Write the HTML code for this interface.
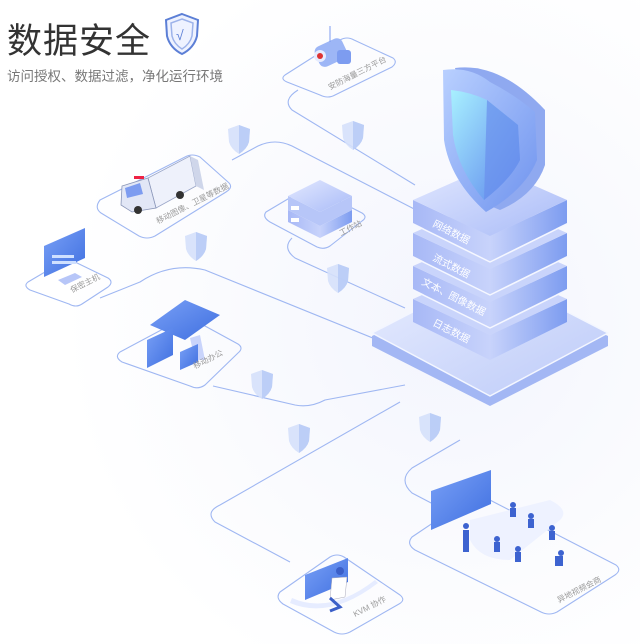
<!DOCTYPE html>
<html><head><meta charset="utf-8"><style>
html,body{margin:0;padding:0;background:#fff;}
body{width:640px;height:644px;overflow:hidden;position:relative;font-family:"Liberation Sans","Noto Sans CJK SC",sans-serif;}
.t1{position:absolute;left:7px;top:13px;font-size:35px;color:#333;letter-spacing:1px;}
.t2{position:absolute;left:7px;top:65px;font-size:13.5px;color:#777;}
svg{position:absolute;left:0;top:0;}
</style></head><body>
<svg width="640" height="644" viewBox="0 0 640 644" xmlns="http://www.w3.org/2000/svg">
<defs>
<linearGradient id="sh" x1="0" y1="0" x2="1" y2="1"><stop offset="0" stop-color="#b9d0ff"/><stop offset="1" stop-color="#6f93ee"/></linearGradient>
<linearGradient id="shf" x1="0" y1="0" x2="1" y2="1"><stop offset="0" stop-color="#a8f0ff"/><stop offset="1" stop-color="#5d86ec"/></linearGradient>
<linearGradient id="top" x1="0" y1="0" x2="1" y2="1"><stop offset="0" stop-color="#e2e8ff"/><stop offset="1" stop-color="#a9bbf7"/></linearGradient>
<linearGradient id="btop" x1="0" y1="0" x2="1" y2="1"><stop offset="0" stop-color="#e8edff"/><stop offset="1" stop-color="#bccaf8"/></linearGradient>
<linearGradient id="side" x1="0" y1="0" x2="1" y2="0"><stop offset="0" stop-color="#a7b8f6"/><stop offset="0.5" stop-color="#c8d3fb"/><stop offset="1" stop-color="#7d9cf0"/></linearGradient>
<linearGradient id="scr" x1="0" y1="0" x2="1" y2="1"><stop offset="0" stop-color="#79a0f6"/><stop offset="1" stop-color="#3f6fe0"/></linearGradient>
<radialGradient id="bg" cx="0.7" cy="0.5" r="0.6"><stop offset="0" stop-color="#f3f5fd"/><stop offset="1" stop-color="#ffffff"/></radialGradient>
<g id="sm"><path d="M0,-12 L11,-8 L10,5 Q8,12 0,17 Q-8,12 -10,5 L-11,-8 Z" fill="#d5e0fb" opacity="0.9"/><path d="M0,-12 L11,-8 L10,5 Q8,12 0,17 Z" fill="#b8cbf6" opacity="0.9"/></g>
</defs>
<rect width="640" height="644" fill="url(#bg)"/>
<g fill="none" stroke="#9fb7f2" stroke-width="1.1" stroke-linejoin="round">
<path d="M298,90 Q282,100 292,110 L415,185"/>
<path d="M232,160 L258,146 Q275,138 292,146 L420,212"/>
<path d="M292,238 Q282,248 295,258 L405,308"/>
<path d="M100,298 L140,282 Q170,262 205,270 L390,345"/>
<path d="M213,386 L295,405 Q310,408 325,400 L405,385"/>
<path d="M290,562 L215,522 Q205,512 220,505 L400,402"/>
<path d="M435,505 L412,493 Q398,480 412,468 L460,440"/>
<path d="M285,75 L340,40 Q347,36 354,40 L393,58 Q398,62 392,67 L335,95 Q328,99 320,95 L287,82 Q280,79 285,75Z"/>
<path d="M100,200 L185,157 Q192,153 200,157 L228,182 Q234,187 226,192 L155,236 Q147,240 139,236 L101,213 Q94,208 100,200Z"/>
<path d="M266,212 L303,190 Q310,186 317,190 L362,213 Q368,217 362,221 L330,246 Q324,250 317,247 L270,222 Q262,217 266,212Z"/>
<path d="M28,282 L62,262 Q68,258 75,262 L108,278 Q114,282 108,287 L82,304 Q76,308 69,304 L30,290 Q23,286 28,282Z"/>
<path d="M120,352 L180,320 Q187,316 194,320 L238,344 Q244,348 238,353 L205,385 Q198,390 190,386 L122,362 Q114,357 120,352Z"/>
<path d="M280,592 L330,557 Q337,553 344,557 L400,595 Q406,600 399,604 L350,632 Q342,636 334,632 L283,604 Q275,598 280,592Z"/>
<path d="M412,537 L470,498 Q478,494 486,498 L616,565 Q622,570 615,575 L557,612 Q549,616 541,612 L415,550 Q406,544 412,537Z"/>
</g>
<use href="#sm" x="239" y="137"/><use href="#sm" x="353" y="133"/><use href="#sm" x="196" y="244"/>
<use href="#sm" x="338" y="276"/><use href="#sm" x="262" y="382"/><use href="#sm" x="299" y="436"/><use href="#sm" x="430" y="425"/>
<path d="M372,336 L490,278 L608,336 L608,346 L490,406 L372,346Z" fill="#a3b7f4"/>
<path d="M372,333 L490,272 L608,333 L490,396Z" fill="url(#btop)" stroke="#f3f6ff" stroke-width="1.5" stroke-linejoin="round"/>
<g stroke-linejoin="round">
<path d="M413,299 L413,322 L490,360 L567,322 L567,299 L490,335Z" fill="url(#side)"/>
<path d="M413,299 L490,265 L567,299 L490,335Z" fill="#c9d4fb"/>
<path d="M413,266 L413,289 L490,327 L567,289 L567,266 L490,302Z" fill="url(#side)"/>
<path d="M413,266 L490,232 L567,266 L490,302Z" fill="#c9d4fb"/>
<path d="M413,233 L413,256 L490,294 L567,256 L567,233 L490,269Z" fill="url(#side)"/>
<path d="M413,233 L490,199 L567,233 L490,269Z" fill="#c9d4fb"/>
<path d="M413,200 L413,223 L490,261 L567,223 L567,200 L490,236Z" fill="url(#side)"/>
<path d="M413,200 L490,166 L567,200 L490,236Z" fill="url(#top)"/>
<g stroke="#f5f7ff" stroke-width="1.5" fill="none"><path d="M413,224 L490,262 L567,224"/><path d="M413,257 L490,295 L567,257"/><path d="M413,290 L490,328 L567,290"/></g>
</g>
<g fill="#fff" font-size="10" font-family="Liberation Sans,Noto Sans CJK SC,sans-serif">
<text transform="translate(432,226) rotate(27)">网络数据</text>
<text transform="translate(432,260) rotate(27)">流式数据</text>
<text transform="translate(421,284) rotate(27)">文本、图像数据</text>
<text transform="translate(432,325) rotate(27)">日志数据</text>
</g>
<path d="M455,68 Q500,62 545,110 L545,165 Q535,195 500,210 L488,205 Z" fill="#8fa9f0"/>
<path d="M443,70 Q470,66 490,82 Q515,95 535,112 L537,160 Q525,190 486,212 Q450,180 444,140 Z" fill="url(#sh)"/>
<path d="M451,90 Q470,92 487,100 L518,125 L520,160 Q510,180 484,200 Q458,170 453,135 Z" fill="url(#shf)"/>
<path d="M487,100 L518,125 L520,160 Q510,180 484,200 Z" fill="#6a8fec" opacity="0.7"/>
<g><rect x="316" y="42" width="30" height="22" rx="6" fill="#9db6f6" transform="rotate(-25 330 53)"/><circle cx="320" cy="56" r="6" fill="#e6ecff"/><circle cx="320" cy="56" r="3" fill="#d33"/><rect x="337" y="50" width="14" height="14" rx="3" fill="#7d9cf0"/><line x1="330" y1="26" x2="330" y2="42" stroke="#7d9cf0"/></g>
<g><path d="M148,178 L190,156 L196,186 L156,208Z" fill="#eef1fb" stroke="#9aa6c8" stroke-width="0.8"/><path d="M190,156 L198,160 L204,190 L196,186Z" fill="#cfd6ea"/><path d="M122,186 L148,178 L156,208 L132,212 L121,205Z" fill="#e2e7f6" stroke="#8a96b8" stroke-width="0.8"/><path d="M125,188 L140,183 L143,194 L127,198Z" fill="#7d9cf0"/><circle cx="138" cy="210" r="4" fill="#333"/><circle cx="180" cy="195" r="4" fill="#333"/><rect x="134" y="176" width="10" height="3" fill="#e24"/></g>
<g><path d="M288,210 L288,222 L320,238 L352,222 L352,210 L320,226Z" fill="url(#side)"/><path d="M288,196 L288,210 L320,226 L352,210 L352,196 L320,212Z" fill="#b7c6f8"/><path d="M288,196 L320,180 L352,196 L320,212Z" fill="url(#top)"/><rect x="291" y="206" width="8" height="4" fill="#fff"/><rect x="291" y="218" width="8" height="4" fill="#fff"/></g>
<g><path d="M44,246 L85,228 L85,258 L44,277Z" fill="url(#scr)"/><rect x="52" y="255" width="22" height="3" fill="#cfe0ff"/><rect x="52" y="261" width="24" height="3" fill="#cfe0ff"/><path d="M58,280 L75,273 L82,277 L65,285Z" fill="#b7c6f8"/></g>
<g><path d="M150,325 L185,300 L220,315 L185,340Z" fill="url(#scr)"/><path d="M190,338 L195,360 L205,360 L200,335Z" fill="#c9d4fb"/><path d="M147,340 L173,328 L173,355 L147,368Z" fill="url(#scr)"/><path d="M180,352 L198,344 L198,362 L180,370Z" fill="url(#scr)"/></g>
<g><path d="M305,575 L348,558 L348,582 L305,600Z" fill="url(#scr)"/><path d="M292,598 Q330,615 375,580 L378,583 Q330,620 290,603Z" fill="#e6ecff"/><circle cx="340" cy="571" r="4" fill="#3b5fc8"/><path d="M332,578 L347,577 L345,597 L330,600Z" fill="#fff" stroke="#aab" stroke-width="0.5"/><path d="M330,598 L340,607 L330,611" stroke="#3b5fc8" stroke-width="3" fill="none"/></g>
<g><path d="M431,491 L491,470 L491,504 L431,530Z" fill="url(#scr)"/><path d="M470,520 L550,500 Q570,510 560,520 L510,560 Q480,560 470,540Z" fill="#eef2ff"/>
<g fill="#3d63d0"><circle cx="466" cy="526" r="3"/><rect x="463" y="530" width="6" height="22"/><circle cx="513" cy="505" r="3"/><rect x="510" y="508" width="6" height="9"/><circle cx="531" cy="516" r="3"/><rect x="528" y="519" width="6" height="9"/><circle cx="552" cy="528" r="3"/><rect x="549" y="531" width="6" height="9"/><circle cx="497" cy="539" r="3"/><rect x="494" y="542" width="6" height="10"/><circle cx="518" cy="549" r="3"/><rect x="515" y="552" width="6" height="10"/><circle cx="561" cy="553" r="3"/><rect x="555" y="556" width="8" height="10"/></g></g>
<g fill="#9a9a9a" font-size="8" font-family="Liberation Sans,Noto Sans CJK SC,sans-serif">
<text transform="translate(330,90) rotate(-27)">安防海量三方平台</text>
<text transform="translate(158,224) rotate(-27)">移动图像、卫星等数据</text>
<text transform="translate(341,236) rotate(-27)">工作站</text>
<text transform="translate(72,293) rotate(-27)">保密主机</text>
<text transform="translate(195,369) rotate(-27)">移动办公</text>
<text transform="translate(355,617) rotate(-27)">KVM 协作</text>
<text transform="translate(559,603) rotate(-27)">异地视频会商</text>
</g>
</svg>
<div class="t1">数据安全</div>
<svg width="40" height="44" style="left:162px;top:12px" viewBox="0 0 40 44"><path d="M20,2 L36,8 L35,24 Q32,36 20,42 Q8,36 5,24 L4,8 Z" fill="#eef2ff" stroke="#5c7fd6" stroke-width="2"/><path d="M20,7 L31,11 L30,24 Q28,32 20,37 Q12,32 10,24 L9,11Z" fill="none" stroke="#9db3ea" stroke-width="1.5"/><text x="14" y="28" font-size="14" fill="#5c7fd6" font-family="Liberation Sans,sans-serif">√</text></svg>
<div class="t2">访问授权、数据过滤，净化运行环境</div>
</body></html>
